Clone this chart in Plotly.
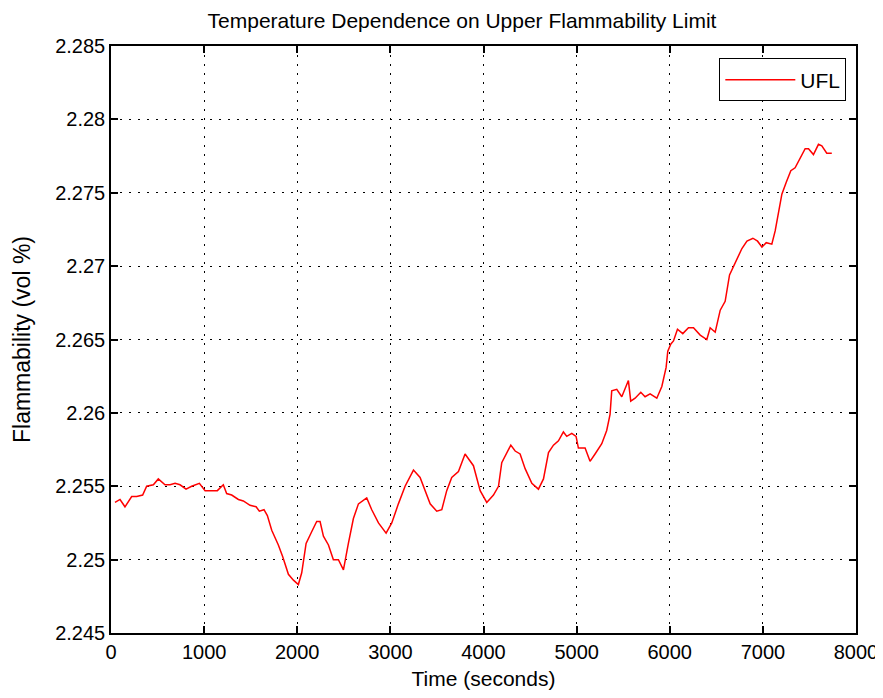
import plotly.graph_objects as go

# UFL readings taken off the reference curve
time_s = [
    43, 97, 150, 222, 276, 340, 383, 455, 508, 580, 634, 688, 741, 806, 866, 949,
    1010, 1063, 1142, 1206, 1242, 1296, 1368, 1421, 1493, 1558, 1593, 1643, 1679,
    1726, 1797, 1844, 1905, 1959, 2012, 2048, 2095, 2155, 2209, 2245, 2281, 2335,
    2388, 2442, 2496, 2549, 2603, 2657, 2746, 2800, 2872, 2954, 3015, 3086, 3158,
    3248, 3319, 3427, 3498, 3552, 3605, 3659, 3731, 3802, 3892, 3964, 4035, 4107,
    4161, 4196, 4293, 4340, 4393, 4447, 4519, 4590, 4644, 4698, 4751, 4805, 4858,
    4894, 4948, 4994, 5019, 5091, 5144, 5198, 5270, 5323, 5359, 5377, 5431, 5485,
    5520, 5556, 5581, 5628, 5689, 5735, 5789, 5861, 5915, 5961, 5979, 6012, 6040,
    6083, 6140, 6201, 6255, 6327, 6398, 6434, 6470, 6488, 6542, 6595, 6642, 6703,
    6775, 6829, 6893, 6943, 6990, 7036, 7096, 7132, 7168, 7204, 7250, 7300, 7346,
    7393, 7454, 7490, 7543, 7597, 7633, 7686, 7740,
]
ufl = [
    2.2539, 2.2541, 2.2536, 2.2543, 2.2543, 2.2544, 2.2550, 2.2551, 2.2555, 2.2551,
    2.2551, 2.2552, 2.2551, 2.2548, 2.2550, 2.2552, 2.2547, 2.2547, 2.2547, 2.2551,
    2.2545, 2.2544, 2.2541, 2.2540, 2.2537, 2.2536, 2.2533, 2.2534, 2.2530, 2.2520,
    2.2510, 2.2502, 2.2490, 2.2486, 2.2483, 2.2491, 2.2511, 2.2519, 2.2526, 2.2526,
    2.2516, 2.2510, 2.2500, 2.2500, 2.2493, 2.2511, 2.2528, 2.2538, 2.2542, 2.2534,
    2.2525, 2.2518, 2.2525, 2.2538, 2.2550, 2.2561, 2.2556, 2.2538, 2.2533, 2.2534,
    2.2547, 2.2556, 2.2560, 2.2572, 2.2564, 2.2547, 2.2539, 2.2544, 2.2550, 2.2566,
    2.2578, 2.2574, 2.2572, 2.2562, 2.2552, 2.2548, 2.2555, 2.2573, 2.2578, 2.2581,
    2.2587, 2.2584, 2.2586, 2.2584, 2.2576, 2.2576, 2.2567, 2.2572, 2.2579, 2.2588,
    2.2599, 2.2615, 2.2616, 2.2611, 2.2616, 2.2622, 2.2608, 2.2610, 2.2614, 2.2611,
    2.2613, 2.2610, 2.2618, 2.2631, 2.2642, 2.2647, 2.2649, 2.2657, 2.2654, 2.2658,
    2.2658, 2.2653, 2.2650, 2.2658, 2.2656, 2.2655, 2.2670, 2.2676, 2.2694, 2.2702,
    2.2712, 2.2717, 2.2719, 2.2717, 2.2713, 2.2716, 2.2715, 2.2724, 2.2738, 2.2749,
    2.2757, 2.2765, 2.2767, 2.2773, 2.2780, 2.2780, 2.2776, 2.2783, 2.2782, 2.2777,
    2.2777,
]

x_ticks = [0, 1000, 2000, 3000, 4000, 5000, 6000, 7000, 8000]
y_ticks = [2.245, 2.25, 2.255, 2.26, 2.265, 2.27, 2.275, 2.28, 2.285]
y_labels = ["2.245", "2.25", "2.255", "2.26", "2.265", "2.27", "2.275", "2.28", "2.285"]

family = "Liberation Sans, Arial, sans-serif"
tick_font = dict(family=family, size=20, color="black")

fig = go.Figure()
fig.add_trace(
    go.Scatter(
        x=time_s,
        y=ufl,
        mode="lines",
        line=dict(color="#ff0000", width=1.5),
        name="UFL",
    )
)

axis_common = dict(
    showline=True,
    linecolor="black",
    linewidth=1.5,
    mirror="ticks",
    ticks="inside",
    ticklen=7,
    tickwidth=1.5,
    tickcolor="black",
    showgrid=True,
    gridcolor="black",
    gridwidth=1,
    griddash="2px,7px",
    zeroline=False,
    tickfont=tick_font,
    automargin=False,
)

# page body adds 8px, so the figure is 8px smaller than the window
fig.update_layout(
    width=875,
    height=690,
    paper_bgcolor="white",
    plot_bgcolor="white",
    margin=dict(l=103, r=27, t=38, b=65),
    title=dict(
        text="Temperature Dependence on Upper Flammability Limit",
        x=(462 - 8) / 875,
        xanchor="center",
        y=1 - 13 / 690,
        yanchor="middle",
        font=dict(family=family, size=21, color="black"),
    ),
    xaxis=dict(
        range=[0, 8000],
        tickvals=x_ticks,
        title=dict(text="Time (seconds)", font=dict(family=family, size=21, color="black"), standoff=10),
        **axis_common,
    ),
    yaxis=dict(
        range=[2.245, 2.285],
        tickvals=y_ticks,
        ticktext=y_labels,
        title=dict(text="Flammability (vol %)", font=dict(family=family, size=23, color="black"), standoff=18),
        **axis_common,
    ),
    showlegend=True,
    legend=dict(
        x=0.987,
        xanchor="right",
        y=1 - 12.5 / 587.5,
        yanchor="top",
        bgcolor="white",
        bordercolor="black",
        borderwidth=1,
        font=dict(family=family, size=21, color="black"),
        itemwidth=70,
    ),
)

fig.write_html("out.html")
